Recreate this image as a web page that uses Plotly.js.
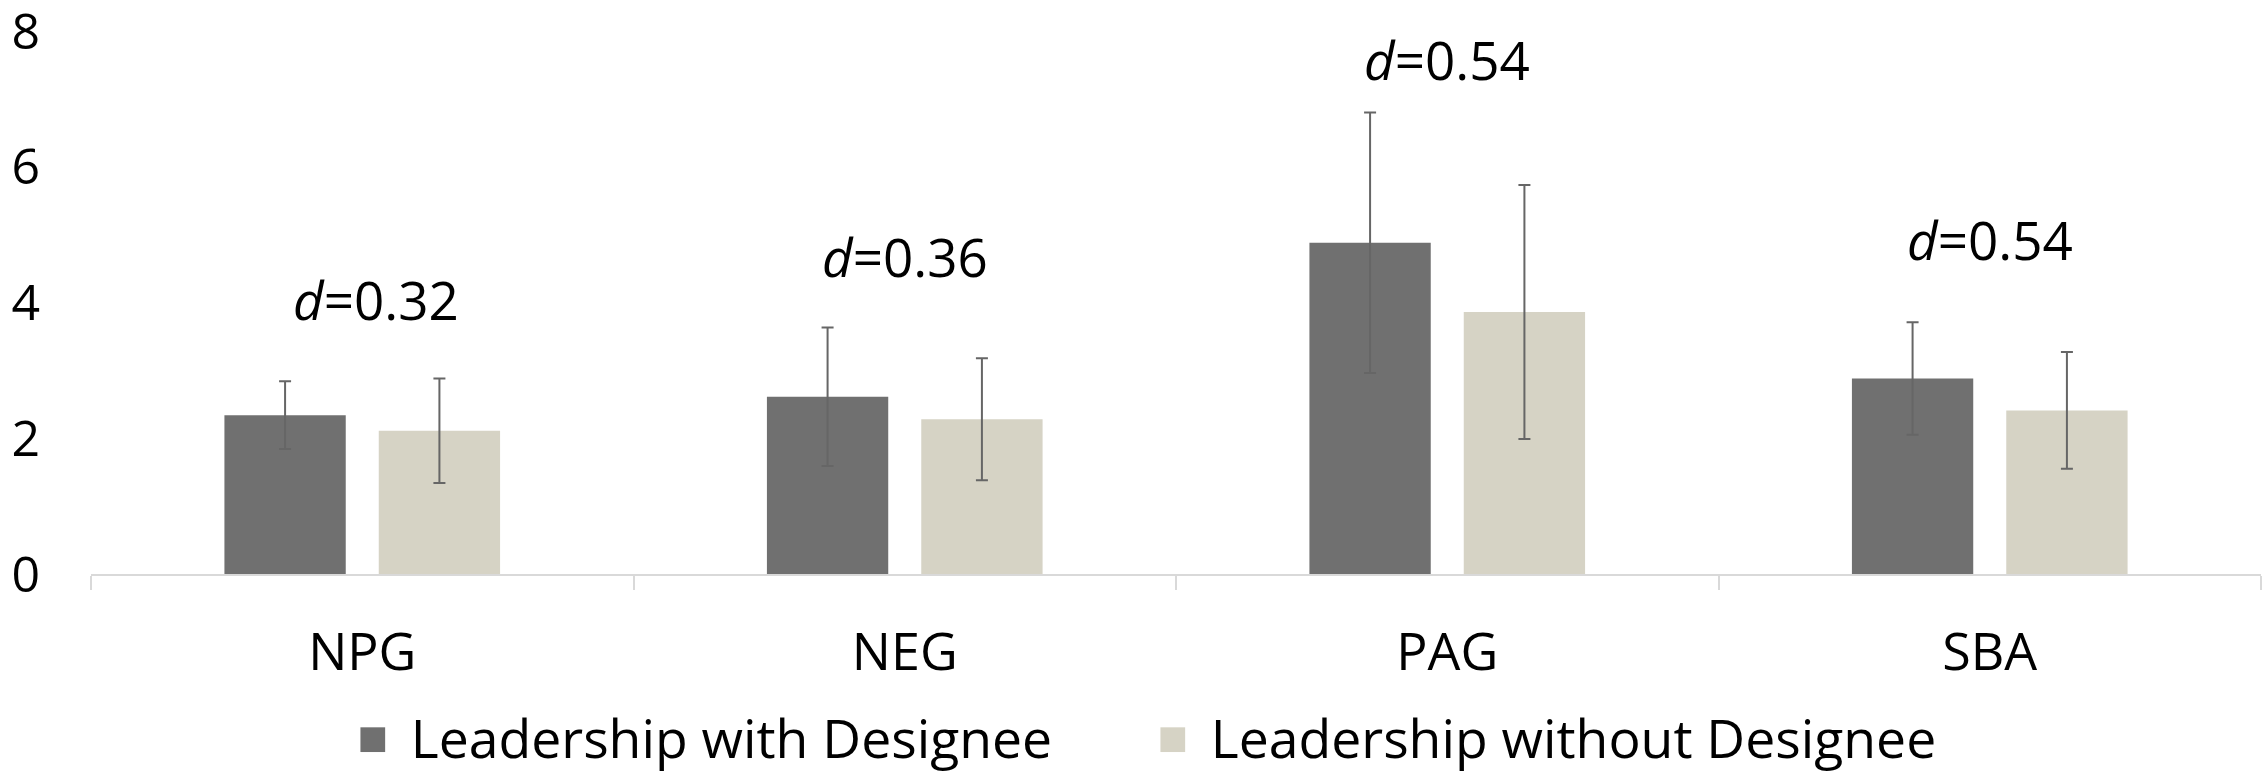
<!DOCTYPE html>
<html>
<head>
<meta charset="utf-8">
<script src="https://cdn.plot.ly/plotly-3.0.1.min.js"></script>
<style>
  html, body { margin: 0; padding: 0; background: #fff; }
  #chart { width: 2265px; height: 774px; }
</style>
</head>
<body>
<div id="chart"></div>
<script>
// ---- data ----
const categories = ['NPG', 'NEG', 'PAG', 'SBA'];
const withDesignee = [2.34, 2.61, 4.88, 2.88];
const withDesigneeErr = [0.50, 1.02, 1.92, 0.83];
const withoutDesignee = [2.11, 2.28, 3.86, 2.41];
const withoutDesigneeErr = [0.77, 0.90, 1.87, 0.86];
const effectSizes = ['0.32', '0.36', '0.54', '0.54'];
const effectLabelY = [3.96, 4.59, 7.49, 4.84];
const seriesNames = ['Leadership with Designee', 'Leadership without Designee'];
const yTicks = [0, 2, 4, 6, 8];

const FONT = '"Open Sans", "Noto Sans", sans-serif';
const errStyle = { type: 'data', visible: true, color: '#666666', thickness: 2, width: 6 };

const traces = [
  {
    type: 'bar', name: seriesNames[0], x: categories, y: withDesignee,
    marker: { color: '#707070' },
    error_y: Object.assign({ array: withDesigneeErr }, errStyle),
    hoverinfo: 'x+y+name'
  },
  {
    type: 'bar', name: seriesNames[1], x: categories, y: withoutDesignee,
    marker: { color: '#d6d3c5' },
    error_y: Object.assign({ array: withoutDesigneeErr }, errStyle),
    hoverinfo: 'x+y+name'
  }
];

const annotations = categories.map((c, i) => ({
  x: c, y: effectLabelY[i], xref: 'x', yref: 'y',
  text: '<i>d</i>=' + effectSizes[i],
  showarrow: false, xshift: i === 0 ? 14 : 0, yshift: 6,
  font: { family: FONT, size: 53, color: '#000' }
}));

const layout = {
  width: 2265, height: 774,
  margin: { l: 91, r: 4, t: 31, b: 200, autoexpand: false },
  paper_bgcolor: '#fff', plot_bgcolor: '#fff',
  font: { family: FONT, color: '#000' },
  barmode: 'group', bargap: 0.431, bargroupgap: 0.214,
  showlegend: true,
  legend: {
    orientation: 'h', x: 0.4976, xanchor: 'center', y: -0.300, yanchor: 'middle',
    font: { family: FONT, size: 53.5, color: '#000' },
    entrywidth: 755, entrywidthmode: 'pixels'
  },
  xaxis: {
    type: 'category', showgrid: false, zeroline: false, automargin: false,
    showline: true, linecolor: '#d9d9d9', linewidth: 2,
    ticks: 'outside', tickson: 'boundaries', ticklen: 14, tickcolor: '#d9d9d9', tickwidth: 2,
    tickfont: { family: FONT, size: 52, color: '#000' },
    ticklabelstandoff: 32
  },
  yaxis: {
    range: [0, 8], tickvals: yTicks, ticktext: yTicks.map(String),
    showgrid: false, zeroline: false, showline: false, ticks: '', automargin: false,
    tickfont: { family: FONT, size: 50, color: '#000' },
    ticklabelstandoff: 50, ticklabeloverflow: 'allow'
  },
  annotations: annotations
};

Plotly.newPlot('chart', traces, layout, { displayModeBar: false, staticPlot: true }).then(() => {
  // let the enlarged legend swatches draw outside the legend clip box
  document.querySelectorAll('.legend .scrollbox').forEach(s => s.removeAttribute('clip-path'));
  // enlarge legend swatches to match the reference
  document.querySelectorAll('.legend .legendpoints path').forEach(p => {
    const prev = p.getAttribute('transform') || '';
    p.setAttribute('transform', 'translate(-18,3) ' + prev + ' scale(2.06)');
  });
});
</script>
</body>
</html>
